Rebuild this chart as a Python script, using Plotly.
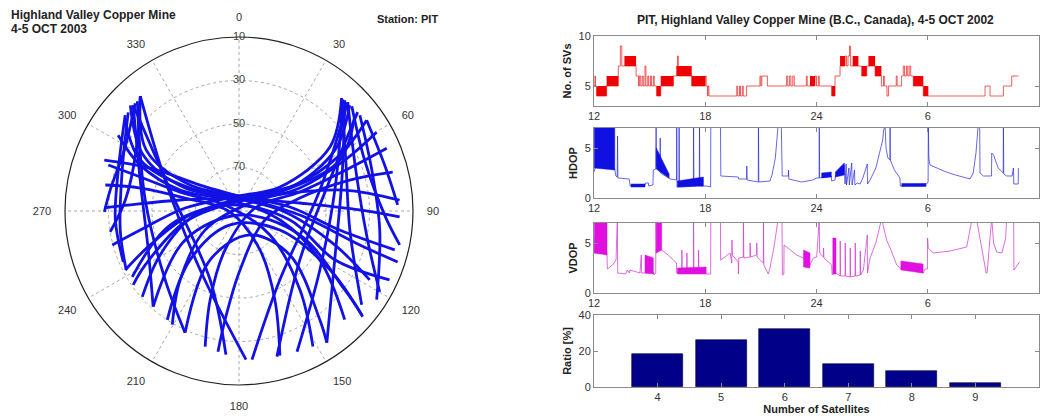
import plotly.graph_objects as go

# ---------------- Skyplot: satellite tracks (azimuth deg, elevation deg) ----------------
track_az = [
    [42.3, 64.5, 99.7, 127.4],
    [45.0, 70.7, 102.7, 119.9],
    [47.1, 68.0, 91.6, 101.9],
    [54.6, 72.5, 87.8],
    [43.7, 73.2, 117.0, 146.3],
    [42.9, 77.7, 126.1, 157.6],
    [319.3, 300.6, 275.5, 260.8],
    [316.1, 297.9, 279.2, 269.6],
    [315.0, 287.4, 246.8, 221.9],
    [317.2, 276.7, 227.0, 203.9],
    [311.7, 289.3, 260.9, 242.4],
    [42.3, 54.9, 59.7, 0.0, 273.2, 259.1, 255.0],
    [46.3, 57.6, 65.7, 5.2, 265.3, 249.1, 242.6],
    [54.6, 61.0, 65.1, 23.2, 265.2, 240.9, 228.4],
    [60.2, 64.3, 69.3, 54.0, 240.8, 220.5, 210.4],
    [67.0, 68.8, 72.7, 79.4, 199.7, 198.0, 194.0],
    [75.8, 74.4, 78.0, 109.1, 179.0, 187.3, 188.5],
    [319.3, 303.3, 298.0, 0.0, 85.5, 100.7, 104.0],
    [314.2, 300.3, 293.1, 342.9, 91.2, 109.5, 117.8],
    [302.1, 294.9, 289.6, 320.7, 102.4, 121.2, 135.8],
    [289.4, 289.1, 287.8, 293.2, 127.7, 142.3, 151.4],
    [281.0, 283.1, 283.5, 263.7, 151.7, 158.0, 164.2],
    [221.9, 241.8, 166.0, 111.5, 126.7, 130.2],
    [203.9, 210.6, 155.4, 130.8, 143.4, 146.3],
    [290.7, 295.8, 303.7, 24.8, 93.8, 105.7, 107.8],
    [86.1, 78.8, 70.6, 5.7, 258.5, 240.1, 235.1],
    [50.2, 71.2, 128.8, 165.4],
    [319.3, 292.7, 213.5, 177.3],
    [45.0, 75.5, 149.3, 175.0],
    [315.0, 286.9, 202.8, 185.2],
    [308.6, 297.3, 295.1, 4.1, 82.5, 89.5, 92.1],
    [50.4, 63.2, 65.7, 4.1, 280.6, 273.2, 271.3],
    [51.6, 72.9, 97.7, 122.8],
    [310.1, 288.7, 265.8, 246.3],
    [238.3, 258.5, 303.7, 100.0, 117.0, 114.6],
    [213.4, 225.0, 212.7, 114.9, 122.9, 130.5],
]
track_el = [
    [19.9, 35.6, 38.3, 19.0],
    [19.3, 33.1, 29.4, 15.4],
    [19.2, 27.7, 23.0, 14.5],
    [18.0, 19.8, 17.0],
    [19.6, 40.6, 40.6, 17.2],
    [19.9, 44.9, 44.0, 20.0],
    [20.4, 35.1, 37.5, 30.0],
    [21.2, 30.3, 30.0, 28.1],
    [21.2, 42.4, 44.6, 30.9],
    [21.2, 46.6, 43.6, 28.8],
    [21.8, 33.1, 34.7, 31.5],
    [19.9, 38.9, 68.2, 83.1, 65.2, 43.8, 29.7],
    [19.6, 37.8, 64.4, 85.0, 67.4, 46.3, 31.1],
    [18.0, 37.0, 61.7, 83.0, 69.7, 48.5, 30.5],
    [17.1, 36.0, 60.1, 83.8, 72.2, 48.3, 29.4],
    [16.2, 35.4, 60.7, 82.5, 71.0, 47.1, 25.7],
    [17.1, 37.2, 61.4, 77.4, 62.9, 39.6, 24.6],
    [20.4, 39.0, 64.5, 83.1, 66.5, 42.9, 16.2],
    [20.3, 39.0, 63.1, 83.8, 68.9, 43.3, 22.1],
    [24.4, 39.9, 61.3, 83.5, 70.7, 46.6, 20.3],
    [26.3, 39.5, 61.6, 83.0, 72.0, 44.2, 19.0],
    [27.4, 43.4, 64.5, 85.8, 69.7, 46.0, 20.9],
    [30.9, 61.9, 88.1, 59.9, 29.4, 16.1],
    [28.8, 63.9, 77.9, 59.1, 27.7, 17.2],
    [23.8, 44.7, 68.5, 83.4, 62.0, 32.3, 13.4],
    [16.0, 40.4, 65.2, 85.4, 64.7, 40.3, 30.7],
    [19.0, 45.9, 54.1, 20.8],
    [20.4, 53.2, 57.6, 21.6],
    [19.3, 51.6, 53.2, 21.4],
    [21.2, 56.9, 55.7, 23.7],
    [23.1, 38.9, 65.2, 83.6, 61.8, 34.5, 16.1],
    [20.9, 38.1, 64.4, 83.6, 62.5, 39.9, 28.1],
    [19.1, 26.1, 24.7, 14.7],
    [21.6, 31.4, 33.0, 31.9],
    [32.3, 57.7, 85.0, 66.2, 40.6, 13.9],
    [30.1, 58.2, 82.4, 69.3, 40.2, 15.2],
]
ring_elev = [70, 50, 30, 10]
azimuth_ticks = [0, 30, 60, 90, 120, 150, 180, 210, 240, 270, 300, 330]

# ---------------- Time series (hours; 12 = noon 4 Oct, 36 = noon 5 Oct) ----------------
hour_ticks = [12, 18, 24, 30, 36]
hour_labels = ["12", "18", "24", "6", "12"]

sv_t = [12.00, 12.05, 12.08, 12.14, 12.68, 13.31, 13.42, 13.50, 13.64, 14.27, 14.40, 14.45,
        14.52, 14.60, 14.66, 14.75, 14.80, 14.90, 14.95, 15.05, 15.10, 15.20, 15.25, 15.38,
        15.60, 16.28, 16.46, 16.50, 16.55, 17.27, 18.00, 18.05, 18.12, 18.15, 18.20, 19.70,
        19.75, 19.85, 19.90, 20.00, 20.05, 20.23, 20.95, 21.00, 21.05, 21.35, 22.39, 22.45,
        22.55, 22.62, 22.72, 22.80, 23.45, 23.50, 23.65, 23.92, 24.00, 24.10, 24.15, 24.82,
        25.00, 25.27, 25.54, 25.62, 25.70, 25.78, 25.84, 25.95, 26.26, 26.44, 26.71, 27.16,
        27.50, 27.61, 27.66, 27.80, 27.88, 28.30, 28.35, 28.59, 28.68, 28.75, 28.85, 28.92,
        29.00, 29.08, 29.22, 29.76, 30.03, 33.09, 33.36, 34.08, 34.53, 34.89]
sv_n = [5, 6, 5, 4, 5, 7, 9, 7, 7, 6, 5, 6,
        5, 6, 5, 7, 5, 6, 5, 6, 5, 6, 5, 4,
        5, 6, 7, 8, 6, 5, 6, 5, 4, 5, 4, 5,
        4, 5, 4, 5, 4, 5, 6, 5, 6, 5, 6, 5,
        6, 5, 6, 5, 6, 5, 5, 6, 5, 6, 5, 4,
        6, 7, 8, 7, 8, 9, 7, 7, 7, 6, 7, 6,
        5, 6, 5, 4, 5, 6, 5, 6, 7, 6, 7, 6,
        7, 6, 5, 4, 4, 5, 4, 5, 6, 6]
# dense toggling periods (start, end, low level, high level)
sv_blk_t0 = [12.14, 12.68, 13.64, 15.38, 15.60, 16.46, 17.27, 23.65, 24.82, 25.27, 25.95, 26.44, 26.80, 27.16, 29.22, 29.76]
sv_blk_t1 = [12.68, 13.31, 14.27, 15.60, 16.28, 17.27, 18.00, 23.92, 25.00, 25.54, 26.26, 26.71, 27.16, 27.50, 29.76, 30.03]
sv_blk_lo = [4, 5, 7, 4, 5, 6, 5, 5, 4, 7, 7, 6, 7, 6, 5, 4]
sv_blk_hi = [5, 6, 8, 5, 6, 7, 6, 6, 5, 8, 8, 7, 8, 7, 6, 5]

hdop_t = [12.00, 12.08, 13.12, 13.18, 13.25, 13.27, 13.29, 13.90, 13.95, 14.75, 14.78, 14.93,
          14.95, 15.18, 15.20, 15.33, 15.35, 15.37, 15.56, 15.57, 15.59, 16.10, 16.45, 16.46,
          16.48, 16.58, 16.59, 16.61, 17.36, 17.37, 17.39, 17.68, 17.69, 17.71, 18.08, 18.29,
          18.30, 18.82, 18.84, 19.78, 19.80, 20.23, 20.24, 20.26, 20.86, 20.87, 20.89, 21.49,
          21.60, 21.78, 21.94, 22.10, 22.15, 22.48, 22.49, 22.51, 23.20, 23.80, 24.01, 24.14,
          24.15, 24.17, 24.80, 24.82, 25.00, 25.02, 25.50, 25.54, 25.60, 25.62, 25.75, 25.77,
          25.90, 25.92, 26.05, 26.07, 26.20, 26.35, 26.50, 26.74, 26.75, 26.89, 27.20, 27.45,
          27.57, 27.62, 27.70, 27.75, 27.85, 27.96, 27.97, 27.98, 28.20, 28.50, 28.52, 29.94,
          30.02, 30.03, 30.06, 30.12, 30.50, 31.00, 31.50, 32.00, 32.28, 32.45, 32.60, 32.73,
          32.80, 32.82, 33.00, 33.44, 33.45, 33.55, 33.80, 34.07, 34.08, 34.10, 34.26, 34.55,
          34.62, 34.64, 34.88, 34.89]
hdop_v = [2.6, 3.1, 2.9, 2.2, 2.1, 6.2, 2.0, 1.9, 1.2, 1.3, 1.5, 1.5,
          1.2, 1.3, 2.8, 2.9, 7.5, 3.2, 2.6, 6.0, 2.5, 1.9, 1.8, 7.5,
          1.1, 1.1, 7.5, 1.1, 1.2, 7.5, 1.2, 1.3, 7.5, 1.2, 1.2, 1.1,
          7.5, 7.5, 2.2, 2.1, 1.9, 1.9, 3.2, 1.8, 1.6, 7.5, 1.6, 1.7,
          2.3, 4.0, 7.5, 7.5, 2.2, 2.2, 2.8, 1.9, 1.6, 1.8, 2.0, 2.0,
          7.5, 2.0, 2.2, 1.7, 1.8, 2.2, 3.3, 1.4, 3.4, 1.3, 3.0, 1.3,
          3.5, 1.3, 2.8, 1.3, 1.5, 1.4, 2.0, 3.4, 1.4, 1.8, 3.0, 5.0,
          5.8, 6.8, 7.2, 5.0, 4.0, 3.8, 7.5, 3.8, 2.8, 2.0, 1.2, 1.4,
          1.6, 7.5, 4.0, 3.3, 3.0, 2.6, 2.3, 2.0, 1.9, 2.5, 4.5, 7.5,
          7.5, 2.5, 2.2, 2.2, 4.5, 4.3, 3.0, 2.5, 7.5, 2.4, 2.2, 2.2,
          3.0, 1.4, 1.4, 3.0]
# dense periods (start, end, low at start, high at start, low at end, high at end)
hdop_blk_t0 = [12.02, 14.00, 15.36, 16.50, 24.28, 25.02, 28.60]
hdop_blk_t1 = [13.12, 14.75, 16.05, 17.90, 24.80, 25.50, 29.90]
hdop_blk_lo0 = [3.0, 1.1, 2.9, 1.1, 2.0, 2.1, 1.15]
hdop_blk_hi0 = [7.5, 1.4, 5.0, 1.7, 2.5, 2.6, 1.45]
hdop_blk_lo1 = [2.8, 1.1, 2.0, 1.2, 2.1, 2.3, 1.15]
hdop_blk_hi1 = [7.5, 1.4, 2.4, 2.1, 2.6, 3.5, 1.45]

vdop_t = [12.00, 12.02, 12.70, 12.72, 13.00, 13.19, 13.26, 13.28, 13.70, 13.80, 13.90, 13.94,
          14.48, 14.55, 14.57, 14.75, 15.20, 15.24, 15.33, 15.34, 15.36, 15.55, 15.57, 15.65,
          16.00, 16.28, 16.45, 16.46, 16.73, 16.74, 16.76, 17.00, 17.01, 17.03, 17.36, 17.37,
          17.39, 17.63, 17.64, 17.66, 18.08, 18.29, 18.30, 18.82, 18.83, 19.34, 19.43, 19.44,
          19.46, 19.78, 19.79, 19.81, 20.05, 20.06, 20.08, 20.41, 20.42, 20.44, 20.77, 20.78,
          20.80, 21.13, 21.14, 21.16, 21.40, 21.49, 21.70, 21.94, 22.14, 22.16, 22.24, 22.25,
          22.60, 22.93, 23.29, 23.65, 23.83, 24.01, 24.15, 24.17, 24.37, 24.38, 24.40, 24.82,
          24.84, 24.91, 25.05, 25.27, 25.28, 25.30, 25.54, 25.55, 25.57, 25.81, 25.82, 25.84,
          26.08, 26.09, 26.11, 26.35, 26.36, 26.38, 26.53, 26.74, 26.75, 26.89, 27.20, 27.52,
          27.61, 27.80, 27.97, 28.33, 28.50, 29.76, 29.85, 29.98, 29.99, 30.03, 30.30, 31.20,
          32.10, 32.40, 32.50, 32.62, 33.15, 33.20, 33.45, 33.55, 33.72, 34.00, 34.20, 34.26,
          34.63, 34.65, 34.95]
vdop_v = [5.5, 4.0, 4.0, 2.4, 2.8, 3.3, 7.5, 2.0, 1.9, 2.3, 2.0, 2.3,
          2.0, 3.8, 2.0, 2.0, 2.1, 1.8, 2.0, 7.5, 4.0, 7.5, 4.3, 4.3,
          3.8, 3.3, 3.0, 2.0, 2.2, 4.3, 2.1, 2.2, 4.0, 2.1, 2.2, 7.5,
          2.2, 2.3, 4.3, 2.2, 1.9, 1.9, 7.5, 7.5, 3.3, 4.0, 3.0, 5.3,
          3.8, 3.1, 1.9, 3.5, 3.6, 7.5, 3.5, 3.6, 5.0, 3.6, 3.8, 5.0,
          3.6, 3.0, 7.5, 2.8, 1.9, 2.5, 4.5, 7.5, 7.5, 1.8, 1.9, 4.8,
          4.3, 3.8, 3.5, 2.8, 3.5, 3.6, 7.5, 4.0, 3.6, 4.5, 3.5, 2.8,
          1.8, 1.9, 2.0, 1.7, 5.2, 1.7, 1.7, 5.0, 1.7, 1.6, 4.5, 1.6,
          1.7, 5.0, 1.7, 1.8, 4.2, 1.8, 2.3, 5.8, 2.0, 3.5, 5.0, 7.5,
          6.6, 5.2, 4.5, 2.8, 2.5, 2.0, 2.4, 2.4, 5.5, 4.5, 4.0, 4.2,
          4.6, 7.5, 7.5, 7.5, 2.0, 2.0, 7.5, 5.0, 4.1, 4.0, 5.5, 7.5,
          7.5, 2.3, 3.1]
vdop_blk_t0 = [12.02, 14.75, 15.36, 16.50, 23.30, 24.88, 28.55]
vdop_blk_t1 = [12.70, 15.20, 15.65, 18.05, 23.65, 25.05, 29.75]
vdop_blk_lo0 = [4.0, 2.0, 4.0, 1.9, 2.6, 1.9, 2.3]
vdop_blk_hi0 = [7.5, 3.8, 7.5, 2.5, 4.3, 5.5, 3.2]
vdop_blk_lo1 = [3.8, 1.9, 4.3, 1.9, 2.5, 1.9, 2.0]
vdop_blk_hi1 = [7.5, 3.5, 7.5, 2.6, 4.0, 5.5, 2.9]

# ---------------- Histogram of visible satellites ----------------
n_sats = [4, 5, 6, 7, 8, 9]
ratio_pct = [18.5, 26.0, 32.0, 12.8, 8.8, 2.0]

FONT = "Liberation Sans, Arial, sans-serif"
W, H = 1045, 418


def band_polygons(t0, t1, lo0, hi0, lo1, hi1):
    xs, ys = [], []
    for a, b, l0, h0, l1, h1 in zip(t0, t1, lo0, hi0, lo1, hi1):
        xs += [a, b, b, a, a, None]
        ys += [l0, l1, h1, h0, l0, None]
    return xs, ys


fig = go.Figure()

# skyplot tracks
for az, el in zip(track_az, track_el):
    fig.add_trace(go.Scatterpolar(
        theta=az, r=[90 - e for e in el], mode="lines",
        line=dict(color="#1212e6", width=2.8, shape="spline", smoothing=1.0),
        hoverinfo="skip", showlegend=False))
# elevation ring labels on the north spoke
fig.add_trace(go.Scatterpolar(
    theta=[0] * len(ring_elev), r=[90 - e for e in ring_elev], mode="text",
    text=[str(e) for e in ring_elev],
    textfont=dict(family=FONT, size=11, color="#444"),
    hoverinfo="skip", showlegend=False))

# No. of SVs
bx, by = band_polygons(sv_blk_t0, sv_blk_t1, sv_blk_lo, sv_blk_hi, sv_blk_lo, sv_blk_hi)
fig.add_trace(go.Scatter(x=sv_t, y=sv_n, mode="lines", line=dict(color="rgba(235,40,40,0.75)", width=1, shape="hv"),
                         xaxis="x", yaxis="y", showlegend=False, hoverinfo="skip"))
fig.add_trace(go.Scatter(x=bx, y=by, mode="lines", fill="toself", fillcolor="#f00000",
                         line=dict(width=0, color="#f00000"), xaxis="x", yaxis="y",
                         showlegend=False, hoverinfo="skip"))

# HDOP
hx, hy = band_polygons(hdop_blk_t0, hdop_blk_t1, hdop_blk_lo0, hdop_blk_hi0, hdop_blk_lo1, hdop_blk_hi1)
fig.add_trace(go.Scatter(x=hdop_t, y=hdop_v, mode="lines", line=dict(color="rgba(40,40,220,0.7)", width=1),
                         xaxis="x2", yaxis="y2", showlegend=False, hoverinfo="skip"))
fig.add_trace(go.Scatter(x=hx, y=hy, mode="lines", fill="toself", fillcolor="#1010e0",
                         line=dict(width=0.5, color="#1010e0"), xaxis="x2", yaxis="y2",
                         showlegend=False, hoverinfo="skip"))

# VDOP
vx, vy = band_polygons(vdop_blk_t0, vdop_blk_t1, vdop_blk_lo0, vdop_blk_hi0, vdop_blk_lo1, vdop_blk_hi1)
fig.add_trace(go.Scatter(x=vdop_t, y=vdop_v, mode="lines", line=dict(color="rgba(210,60,210,0.75)", width=1),
                         xaxis="x3", yaxis="y3", showlegend=False, hoverinfo="skip"))
fig.add_trace(go.Scatter(x=vx, y=vy, mode="lines", fill="toself", fillcolor="#e010e0",
                         line=dict(width=0.5, color="#e010e0"), xaxis="x3", yaxis="y3",
                         showlegend=False, hoverinfo="skip"))

# Ratio bars
fig.add_trace(go.Bar(x=n_sats, y=ratio_pct, width=0.8, marker=dict(color="#000088", line=dict(color="#000033", width=0.6)),
                     xaxis="x4", yaxis="y4", showlegend=False, hoverinfo="skip"))


def cart_axis(**kw):
    d = dict(showline=True, linecolor="#8a8a8a", linewidth=1, mirror="ticks", ticks="inside", ticklen=4,
             tickcolor="#8a8a8a", showgrid=False, zeroline=False, automargin=False,
             tickfont=dict(family=FONT, size=11, color="#333"))
    d.update(kw)
    return d


XD = [594 / W, 1039 / W]


def ydom(top, bottom):
    return [1 - bottom / H, 1 - top / H]


def ytitle(txt):
    return dict(text="<b>%s</b>" % txt, font=dict(family=FONT, size=11, color="#222"), standoff=4)


time_axis = dict(range=[12, 36], tickmode="array", tickvals=hour_ticks, ticktext=hour_labels)

fig.update_layout(
    width=W, height=H, margin=dict(l=0, r=0, t=0, b=0, pad=0, autoexpand=False),
    paper_bgcolor="white", plot_bgcolor="white",
    font=dict(family=FONT, size=11, color="#333"),
    polar=dict(
        domain=dict(x=[(239 - 174) / W, (239 + 174) / W], y=[(207 - 174) / H, (207 + 174) / H]),
        bgcolor="white",
        angularaxis=dict(rotation=90, direction="clockwise", tickmode="array",
                         tickvals=azimuth_ticks, ticktext=[str(a) for a in azimuth_ticks],
                         showline=True, linecolor="#222", linewidth=1.2,
                         showgrid=True, gridcolor="#a8a8a8", griddash="dot", gridwidth=1,
                         ticks="outside", ticklen=11, tickcolor="rgba(0,0,0,0)",
                         tickfont=dict(family=FONT, size=11, color="#333")),
        radialaxis=dict(range=[0, 80], tickmode="array", tickvals=[90 - e for e in ring_elev],
                        showticklabels=False, ticks="", showline=False, angle=90,
                        showgrid=True, gridcolor="#a8a8a8", griddash="dot", gridwidth=1),
    ),
    xaxis=cart_axis(domain=XD, anchor="y", **time_axis),
    yaxis=cart_axis(domain=ydom(36, 106), anchor="x", range=[3, 10], tickvals=[5, 10], title=ytitle("No. of SVs")),
    xaxis2=cart_axis(domain=XD, anchor="y2", **time_axis),
    yaxis2=cart_axis(domain=ydom(128, 198), anchor="x2", range=[0, 7], tickvals=[0, 5], title=ytitle("HDOP")),
    xaxis3=cart_axis(domain=XD, anchor="y3", **time_axis),
    yaxis3=cart_axis(domain=ydom(223, 293), anchor="x3", range=[0, 7], tickvals=[0, 5], title=ytitle("VDOP")),
    xaxis4=cart_axis(domain=XD, anchor="y4", range=[3, 10], tickvals=n_sats,
                     title=dict(text="<b>Number of Satellites</b>", font=dict(family=FONT, size=11, color="#222"), standoff=2)),
    yaxis4=cart_axis(domain=ydom(315, 387), anchor="x4", range=[0, 40], tickvals=[0, 20, 40], title=ytitle("Ratio [%]")),
    bargap=0,
    annotations=[
        dict(text="<b>Highland Valley Copper Mine</b>", x=9 / W, y=1 - 15 / H, xref="paper", yref="paper",
             xanchor="left", yanchor="middle", showarrow=False, font=dict(family=FONT, size=12, color="#222")),
        dict(text="<b>4-5 OCT 2003</b>", x=9 / W, y=1 - 29 / H, xref="paper", yref="paper",
             xanchor="left", yanchor="middle", showarrow=False, font=dict(family=FONT, size=12, color="#222")),
        dict(text="<b>Station: PIT</b>", x=375 / W, y=1 - 19 / H, xref="paper", yref="paper",
             xanchor="left", yanchor="middle", showarrow=False, font=dict(family=FONT, size=11, color="#222")),
        dict(text="<b>PIT, Highland Valley Copper Mine (B.C., Canada), 4-5 OCT 2002</b>", x=816 / W, y=1 - 20 / H,
             xref="paper", yref="paper", xanchor="center", yanchor="middle", showarrow=False,
             font=dict(family=FONT, size=12, color="#222")),
    ],
)

fig.write_html("out.html", config={"displayModeBar": False},
               post_script="document.body.style.margin='0';document.body.style.overflow='hidden';")
